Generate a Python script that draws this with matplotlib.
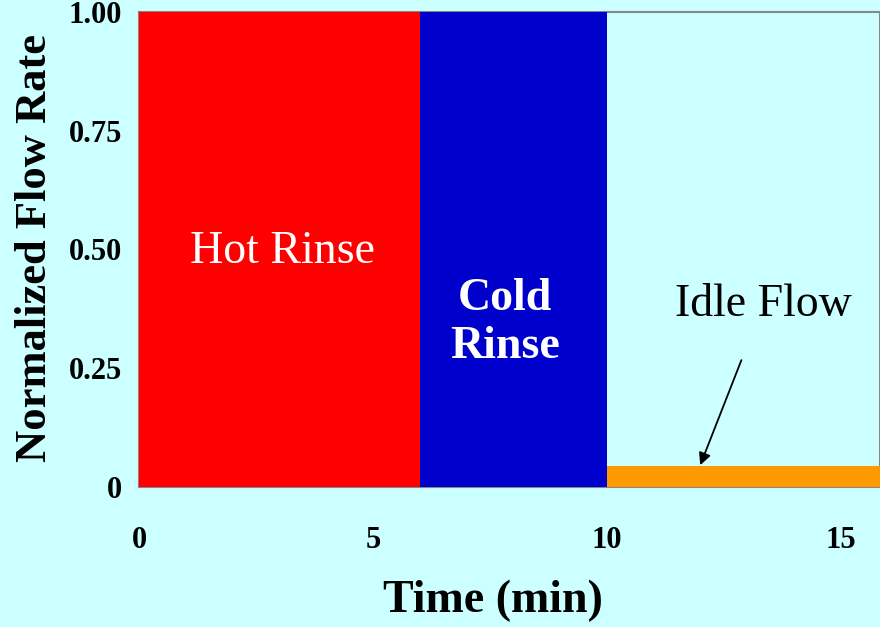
import matplotlib.pyplot as plt

# ==================== data ====================
phases = ['Hot Rinse', 'Cold Rinse', 'Idle Flow']
start_min = [0, 6, 10]
duration_min = [6, 4, 6]
flow_rate = [1.0, 1.0, 0.045]
phase_colors = ['#FF0000', '#0000CC', '#FF9900']

x_ticks = [0, 5, 10, 15]
y_ticks = [0, 0.25, 0.50, 0.75, 1.00]
y_tick_labels = ['0', '0.25', '0.50', '0.75', '1.00']

bg = '#CCFFFF'
plt.rcParams['font.family'] = ['Liberation Serif', 'DejaVu Serif']

fig = plt.figure(figsize=(8.8, 6.27), dpi=100, facecolor=bg)
ax = fig.add_axes([0.158, 0.2233, 0.842, 0.7576], facecolor=bg)

ax.bar(start_min, flow_rate, width=duration_min, align='edge',
       color=phase_colors, edgecolor='none', zorder=3)

ax.set_xlim(0, 15.83)
ax.set_ylim(0, 1.0)

ax.set_xticks(x_ticks)
ax.set_xticklabels([str(t) for t in x_ticks], fontsize=22, fontweight='bold')
ax.set_yticks(y_ticks)
ax.set_yticklabels(y_tick_labels, fontsize=22, fontweight='bold')
ax.tick_params(axis='x', length=0, pad=28)
ax.tick_params(axis='y', length=0, pad=12)

for s in ax.spines.values():
    s.set_color('#888888')
    s.set_linewidth(1.5)
    s.set_zorder(1)

ax.set_xlabel('Time (min)', fontsize=33, fontweight='bold')
ax.set_ylabel('Normalized Flow Rate', fontsize=32, fontweight='bold')
ax.xaxis.set_label_coords(0.478, -0.195)
ax.yaxis.set_label_coords(-0.114, 0.503)

# labels on the phases
ax.text(3.06, 0.495, 'Hot Rinse', color='white', fontsize=33,
        ha='center', va='center', zorder=4)
ax.text(7.82, 0.345, 'Cold\nRinse', color='white', fontsize=33, fontweight='bold',
        ha='center', va='center', linespacing=1.2, zorder=4)
ax.annotate('Idle Flow', xy=(11.99, 0.046), xytext=(13.33, 0.383),
            fontsize=33, ha='center', va='center', color='black',
            arrowprops=dict(arrowstyle='-|>', color='black', lw=1.3,
                            mutation_scale=18, shrinkA=24, shrinkB=0),
            zorder=5)

fig.savefig('out.png', dpi=100, facecolor=bg)
